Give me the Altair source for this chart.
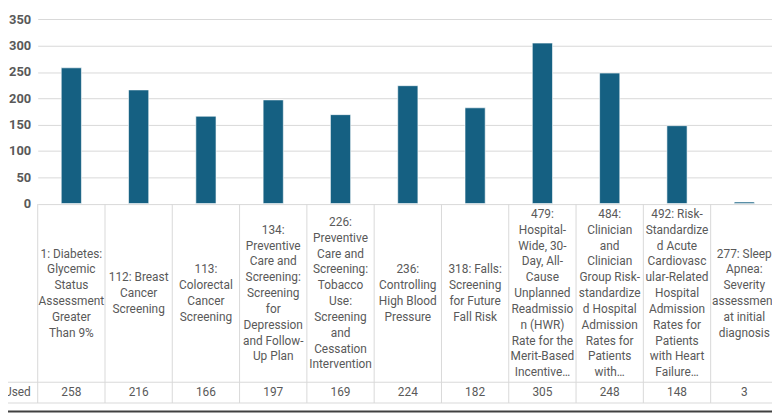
import altair as alt
import pandas as pd

ids = ["1", "112", "113", "134", "226", "236", "318", "479", "484", "492", "277"]
labels = [
    ["1: Diabetes:", "Glycemic", "Status", "Assessment", "Greater", "Than 9%"],
    ["112: Breast", "Cancer", "Screening"],
    ["113:", "Colorectal", "Cancer", "Screening"],
    ["134:", "Preventive", "Care and", "Screening:", "Screening", "for", "Depression", "and Follow-", "Up Plan"],
    ["226:", "Preventive", "Care and", "Screening:", "Tobacco", "Use:", "Screening", "and", "Cessation", "Intervention"],
    ["236:", "Controlling", "High Blood", "Pressure"],
    ["318: Falls:", "Screening", "for Future", "Fall Risk"],
    ["479:", "Hospital-", "Wide, 30-", "Day, All-", "Cause", "Unplanned", "Readmissio", "n (HWR)", "Rate for the", "Merit-Based", "Incentive\u2026"],
    ["484:", "Clinician", "and", "Clinician", "Group Risk-", "standardize", "d Hospital", "Admission", "Rates for", "Patients", "with\u2026"],
    ["492: Risk-", "Standardize", "d Acute", "Cardiovasc", "ular-Related", "Hospital", "Admission", "Rates for", "Patients", "with Heart", "Failure\u2026"],
    ["277: Sleep", "Apnea:", "Severity", "assessment", "at initial", "diagnosis"],
]
values = [258, 216, 166, 197, 169, 224, 182, 305, 248, 148, 3]
row_header = "Frequency Used"
y_ticks = [0, 50, 100, 150, 200, 250, 300, 350]

df = pd.DataFrame({
    "id": ids,
    "label": ["\n".join(l) for l in labels],
    "nlines": [len(l) for l in labels],
    "value": values,
})

TXT = "#595959"
LINE = "#d9d9d9"
FONT = "Roboto"
LH = 16

xscale = alt.Scale(range=[0, 748], paddingInner=0, paddingOuter=0)
X = alt.X("id:N", sort=ids, scale=xscale, axis=None)

base = alt.Chart(df)

bars = base.mark_bar(width=alt.RelativeBandSize(0.3), color="#156082",
                     stroke="#ffffff", strokeWidth=0.6).encode(
    x=X,
    y=alt.Y("value:Q",
            scale=alt.Scale(domain=[0, 367.6], nice=False, zero=True),
            axis=alt.Axis(values=y_ticks, grid=True, gridColor=LINE, gridWidth=1,
                          domain=False, ticks=False, labelPadding=7,
                          labelFont=FONT, labelFontSize=13, labelFontWeight="bold",
                          labelColor=TXT, title=None)),
)

vlines = base.mark_rule(color=LINE, strokeWidth=1).encode(
    x=alt.X("id:N", sort=ids, scale=xscale, axis=None, bandPosition=0),
    y=alt.value(196),
    y2=alt.value(397),
)

one = alt.Data(values=[{}])
hline1 = alt.Chart(one).mark_rule(color=LINE, strokeWidth=1).encode(
    x=alt.value(-38), x2=alt.value(748), y=alt.value(376))
hline2 = alt.Chart(one).mark_rule(color=LINE, strokeWidth=1).encode(
    x=alt.value(-38), x2=alt.value(748), y=alt.value(397))
border = alt.Chart(one).mark_rule(color="#404040", strokeWidth=2).encode(
    x=alt.value(-38), x2=alt.value(748), y=alt.value(405.5))

# category labels, vertically centred in the cell (one layer per line count)
cat_layers = []
for n in sorted(set(len(l) for l in labels)):
    cat_layers.append(
        base.transform_filter(alt.datum.nlines == n).mark_text(
            lineBreak="\n", lineHeight=LH, font=FONT, fontSize=12, color=TXT,
            baseline="middle", align="center", dy=-(n - 1) * LH / 2).encode(
            x=X, y=alt.value(286), text="label:N")
    )

val_text = base.mark_text(font=FONT, fontSize=12, color=TXT,
                          baseline="middle", align="center").encode(
    x=X, y=alt.value(386), text="value:Q")

header = alt.Chart(one).mark_text(text=row_header, font=FONT, fontSize=12, color=TXT,
                                  baseline="middle", align="right").encode(
    x=alt.value(-7), y=alt.value(386))

chart = alt.layer(vlines, hline1, hline2, border, bars, *cat_layers, val_text, header).properties(
    width=742,
    height=195.5,
    autosize=alt.AutoSizeParams(type="none"),
    padding={"left": 30, "top": 0, "right": 0, "bottom": 213.5},
).configure_view(strokeWidth=0)

chart.save("out.html", embed_options={"renderer": "svg", "actions": False})
